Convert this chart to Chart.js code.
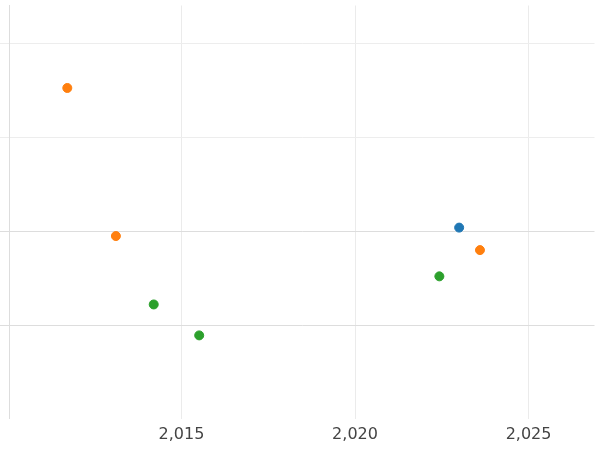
<!DOCTYPE html><html><head><script src="https://cdn.jsdelivr.net/npm/chart.js"></script>
<style>body{margin:0}#w{width:600px;height:450px}</style></head><body><div id="w"><canvas id="c"></canvas></div>
<script>
const blueX=[2023.0], blueY=[2.04];
const orangeX=[2011.71,2013.11,2023.6], orangeY=[3.53,1.95,1.80];
const greenX=[2014.2,2015.51,2022.43], greenY=[1.22,0.89,1.52];
const xTicks=[2015,2020,2025];
const pts=(xs,ys)=>xs.map((x,i)=>({x,y:ys[i]}));
const ds=(d,c)=>({data:d,backgroundColor:c,borderColor:c,pointRadius:4.5,pointHoverRadius:4.5});
new Chart(document.getElementById('c'),{type:'scatter',
data:{datasets:[ds(pts(blueX,blueY),'#1f77b4'),ds(pts(orangeX,orangeY),'#ff7f0e'),ds(pts(greenX,greenY),'#2ca02c')]},
options:{responsive:true,maintainAspectRatio:false,animation:false,
layout:{padding:{left:0,top:0,right:0,bottom:0}},
plugins:{legend:{display:false},tooltip:{enabled:false}},
scales:{
x:{type:'linear',min:2010.03,max:2026.9,
afterBuildTicks:a=>{a.ticks=xTicks.map(v=>({value:v}));},
ticks:{color:'#444',font:{family:'DejaVu Sans',size:16},padding:6},
grid:{color:'#ebebeb',drawTicks:false},border:{display:false}},
y:{min:0,max:4.41,
afterBuildTicks:a=>{a.ticks=[1,2,3,4].map(v=>({value:v}));},
ticks:{display:false},
grid:{color:c=>(c.tick&&c.tick.value<=2)?'#dddddd':'#ededed',drawTicks:true,tickLength:9},
border:{display:true,color:'#dddddd'}}
}}});
</script></body></html>
